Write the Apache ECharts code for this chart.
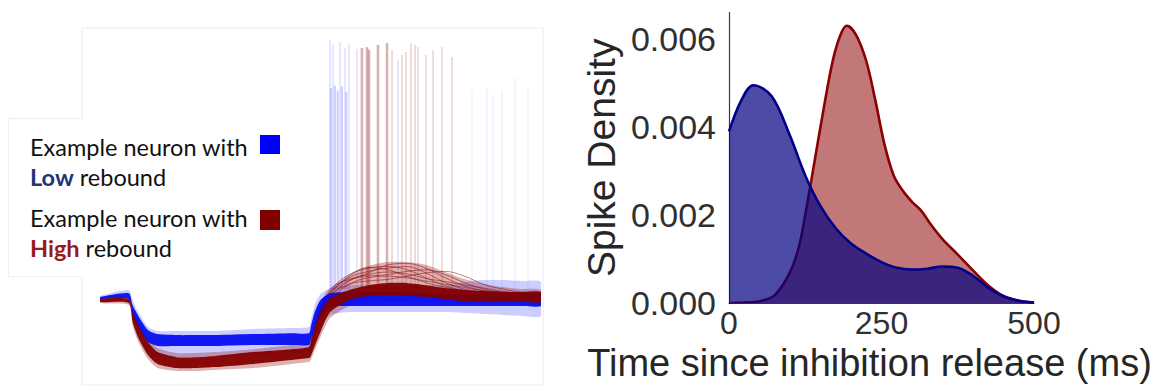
<!DOCTYPE html>
<html>
<head>
<meta charset="utf-8">
<script src="https://cdn.jsdelivr.net/npm/echarts@6/dist/echarts.min.js"></script>
<style>
  html, body { margin: 0; padding: 0; background: #fff; }
  #chart { width: 1172px; height: 391px; }
</style>
</head>
<body>
<div id="chart"></div>
<script>
// ---- Left: membrane potential of repeated trials (mV), sampled at traceTimes (ms)
const traceTimes = [0, 150, 170, 200, 250, 300, 400, 500, 600, 800, 1000, 1090, 1100, 1120, 1150, 1200, 1300, 1400, 1500, 1600, 1700, 1800, 1900, 2000, 2100, 2200, 2300];

// low-rebound neuron: dense core of trials and full spread of trials
const lowCoreHigh = [-60.0, -58.8, -62.5, -65.9, -70.3, -71.6, -71.9, -71.9, -71.9, -71.6, -71.3, -71.3, -69.1, -64.7, -60.9, -58.8, -58.4, -58.4, -58.4, -58.6, -58.8, -59.1, -59.1, -59.1, -59.1, -59.1, -59.1];
const lowCoreLow  = [-60.6, -60.6, -65.9, -69.7, -74.1, -75.3, -75.3, -75.3, -75.3, -75.0, -75.0, -75.0, -73.4, -70.3, -66.6, -63.1, -62.8, -62.8, -62.8, -62.8, -62.8, -62.8, -62.8, -62.8, -62.8, -62.8, -62.8];
const lowSpreadHigh = [-59.7, -57.8, -60.9, -64.7, -69.4, -70.6, -70.6, -70.6, -70.6, -70.0, -69.7, -69.4, -67.2, -62.5, -59.1, -57.2, -56.3, -56.3, -56.3, -56.3, -56.3, -56.3, -55.3, -54.7, -54.7, -55.0, -55.3];
const lowSpreadLow  = [-60.9, -61.3, -67.2, -71.9, -77.2, -78.4, -78.8, -78.8, -78.4, -78.1, -77.8, -77.2, -75.9, -72.8, -69.1, -65.6, -64.7, -64.7, -64.7, -64.7, -64.7, -64.7, -65.0, -65.3, -65.6, -65.9, -65.9];

// high-rebound neuron
const highCoreHigh = [-60.6, -60.6, -64.7, -68.8, -74.1, -77.2, -78.8, -78.8, -78.4, -77.2, -76.3, -75.6, -74.1, -69.7, -64.7, -60.3, -57.8, -56.3, -55.6, -55.6, -56.3, -57.2, -57.8, -58.1, -58.4, -58.4, -58.4];
const highCoreLow  = [-61.6, -61.9, -67.8, -72.8, -78.1, -80.9, -82.2, -82.2, -81.9, -80.9, -79.7, -79.1, -78.4, -75.3, -70.9, -64.7, -60.9, -59.7, -59.4, -59.7, -60.0, -60.6, -61.3, -61.6, -61.6, -61.6, -61.6];
const highSpreadHigh = [-60.3, -60.0, -63.8, -67.5, -72.8, -75.9, -77.5, -77.5, -77.2, -76.3, -75.0, -74.4, -72.8, -67.8, -62.8, -57.8, -53.1, -50.3, -49.1, -49.1, -50.0, -52.2, -54.4, -55.9, -56.9, -57.5, -57.8];
const highSpreadLow  = [-61.9, -62.5, -69.1, -74.1, -79.4, -82.2, -83.1, -83.1, -82.8, -82.2, -80.9, -80.3, -79.7, -76.6, -72.5, -66.6, -62.8, -61.9, -61.6, -61.6, -61.6, -61.9, -62.2, -62.5, -62.5, -62.5, -62.5];

// single high-rebound trials that stand out in the rebound hump
const humpTimes = [1100, 1150, 1200, 1300, 1400, 1500, 1600, 1700, 1800, 1900, 2000, 2100, 2200, 2300];
const humpTrials = [
  [-75, -64, -58, -53, -51, -50.5, -51.5, -54, -56.5, -58, -58.8, -59, -59.2, -59.3],
  [-76, -66, -60, -55, -52.5, -50, -49.5, -51, -54, -56.5, -58, -58.6, -59, -59.1],
  [-74, -63, -57.5, -54.5, -53.5, -53, -52, -51.5, -53, -55.5, -57.5, -58.5, -58.8, -59],
  [-77, -67, -61, -56, -54, -53.5, -54, -55, -56, -57, -58, -58.5, -58.8, -58.8],
  [-75, -65, -59, -53.5, -50.8, -51.5, -53.5, -55.5, -57, -58, -58.5, -59, -59, -59],
  [-76, -65, -59.5, -56, -55, -54.5, -53.5, -52.5, -52, -53.5, -56, -57.5, -58.5, -59],
  [-75, -64.5, -58.5, -54, -52, -51, -50.5, -52.5, -55.5, -57.5, -58.5, -59, -59.2, -59.2],
  [-76, -65.5, -59, -54.8, -53, -52.2, -52.8, -54.2, -55.2, -56.2, -57.2, -58.2, -58.8, -59]
];

// action potentials: onset potential (mV), spike times (ms) and peak potentials (mV)
const spikeOnset = -57.5;
const lowEarlySpikeTimes = [1200, 1215, 1252, 1278, 1299, 1340, 1554];
const lowEarlySpikePeaks = [20.3, 18.8, 19.7, 17.8, 18.8, 17.5, 14.0];
const lowBurstSpikeTimes = [1205, 1225, 1240, 1262, 1285];
const lowBurstSpikePeaks = [5.3, 6.0, 4.5, 5.8, 4.0];
const lowLateSpikeTimes = [1940, 2018, 2050, 2097, 2164, 2232];
const lowLateSpikePeaks = [3.8, 5.3, 3.1, 4.7, 8.4, 5.3];
const highMainSpikeTimes = [1366, 1393, 1403, 1450, 1497];
const highMainSpikePeaks = [17.8, 18.1, 17.2, 18.8, 19.4];
const highLaterSpikeTimes = [1523, 1575, 1596, 1622, 1643, 1658, 1700, 1737, 1784, 1836];
const highLaterSpikePeaks = [17.2, 15.6, 16.6, 19.4, 18.8, 18.1, 15.6, 17.2, 18.1, 15.0];

// ---- Right: kernel density of spike times after inhibition release
const lowKdeTimes = [0, 20, 40, 70, 100, 125, 150, 175, 200, 225, 250, 275, 300, 325, 350, 375, 400, 425, 450, 475, 500];
const lowKdeDensity = [0.0039, 0.0046, 0.00495, 0.0047, 0.0038, 0.0029, 0.0022, 0.0017, 0.00135, 0.00112, 0.00093, 0.0008, 0.00076, 0.00078, 0.00083, 0.0008, 0.00062, 0.00035, 0.00015, 0.00005, 0.00001];
const highKdeTimes = [0, 25, 50, 75, 100, 115, 125, 140, 155, 170, 183, 193, 208, 225, 240, 255, 270, 285, 300, 315, 330, 350, 375, 400, 425, 450, 475, 500];
const highKdeDensity = [0, 0.00001, 0.00004, 0.00018, 0.0007, 0.0013, 0.002, 0.0032, 0.0044, 0.0055, 0.0061, 0.0063, 0.0061, 0.0055, 0.0046, 0.0036, 0.0029, 0.00255, 0.0023, 0.0021, 0.0018, 0.00145, 0.0011, 0.00074, 0.0004, 0.00016, 0.00005, 0.00001];

const xTicks = [0, 250, 500];
const yTicks = [0, 0.002, 0.004, 0.006];

const AXIS_FONT = 'Liberation Sans, Arial, sans-serif';
const LEGEND_FONT = 'Lato, Calibri, sans-serif';

// filled band between the upper and lower envelope of a group of trials
function band(low, high, color, z) {
  return {
    type: 'custom', xAxisIndex: 0, yAxisIndex: 0, silent: true, clip: true, z: z, animation: false,
    data: [[traceTimes[0], low[0]]],
    renderItem: function (params, api) {
      const pts = [];
      for (let i = 0; i < traceTimes.length; i++) pts.push(api.coord([traceTimes[i], high[i]]));
      for (let i = traceTimes.length - 1; i >= 0; i--) pts.push(api.coord([traceTimes[i], low[i]]));
      return {
        type: 'polygon',
        shape: { points: pts, smooth: 0.22 },
        style: { fill: color, stroke: null }
      };
    }
  };
}

// one visible trial trace
function trial(values, color, z) {
  return {
    type: 'line', xAxisIndex: 0, yAxisIndex: 0, silent: true, z: z, animation: false,
    symbol: 'none', smooth: 0.4,
    data: humpTimes.map((t, i) => [t, values[i]]),
    lineStyle: { color: color, width: 1 }
  };
}

// vertical action potential strokes
function spikes(times, peaks, color, width, z) {
  return {
    type: 'custom', xAxisIndex: 0, yAxisIndex: 0, silent: true, z: z, animation: false,
    data: times.map((t, i) => [t, peaks[i]]),
    renderItem: function (params, api) {
      const p0 = api.coord([api.value(0), spikeOnset]);
      const p1 = api.coord([api.value(0), api.value(1)]);
      return {
        type: 'line',
        shape: { x1: p0[0], y1: p0[1], x2: p1[0], y2: p1[1] },
        style: { stroke: color, lineWidth: width, lineCap: 'butt' }
      };
    }
  };
}

const legendText = (x, y, text, rich) => ({
  type: 'text', x: x, y: y, z: 5,
  style: {
    text: text, fill: '#111', fontSize: 23.5, fontFamily: LEGEND_FONT,
    verticalAlign: 'middle', align: 'left', rich: rich || {}
  }
});

const chart = echarts.init(document.getElementById('chart'), null, { renderer: 'svg' });

chart.setOption({
  animation: false,
  backgroundColor: '#fff',
  grid: [
    { left: 100, top: 25, width: 441, height: 352, outerBoundsMode: 'none', containLabel: false },
    { left: 729, top: 12.6, width: 305, height: 290.4, outerBoundsMode: 'none', containLabel: false }
  ],
  xAxis: [
    { gridIndex: 0, type: 'value', min: 0, max: 2300, show: false },
    {
      gridIndex: 1, type: 'value', min: 0, max: 500, interval: 250,
      axisLine: { show: true, lineStyle: { color: '#3a3a3a', width: 1.2 } },
      axisTick: { show: false }, splitLine: { show: false },
      axisLabel: {
        margin: 8, fontSize: 32, lineHeight: 24, color: '#303030', fontFamily: AXIS_FONT,
        customValues: xTicks
      },
      name: 'Time since inhibition release (ms)', nameLocation: 'middle', nameGap: 44,
      nameMoveOverlap: false,
      nameTextStyle: { fontSize: 38, lineHeight: 32, color: '#262626', fontFamily: AXIS_FONT, padding: [0, 24, 0, 0] }
    }
  ],
  yAxis: [
    { gridIndex: 0, type: 'value', min: -85, max: 25, show: false },
    {
      gridIndex: 1, type: 'value', min: 0, max: 0.0066, interval: 0.002,
      axisLine: { show: true, lineStyle: { color: '#3a3a3a', width: 1.2 } },
      axisTick: { show: false }, splitLine: { show: false },
      axisLabel: {
        margin: 13, fontSize: 34, color: '#303030', fontFamily: AXIS_FONT,
        customValues: yTicks, formatter: v => v.toFixed(3)
      },
      name: 'Spike Density', nameLocation: 'middle', nameGap: 108,
      nameTextStyle: { fontSize: 39, color: '#262626', fontFamily: AXIS_FONT }
    }
  ],
  graphic: [
    { type: 'rect', z: 0, shape: { x: 82, y: 28, width: 461, height: 357 },
      style: { fill: '#fff', stroke: '#ececf2', lineWidth: 1 } },
    { type: 'rect', z: 1, shape: { x: 8, y: 118, width: 292, height: 159 },
      style: { fill: '#fff', stroke: null } },
    { type: 'polyline', z: 1, shape: { points: [[83, 118.5], [8.5, 118.5], [8.5, 276.5], [83, 276.5]] },
      style: { stroke: '#efeff2', lineWidth: 1, fill: null } },
    legendText(30, 147, 'Example neuron with'),
    legendText(30, 177, '{b|Low} rebound', { b: { fontWeight: 'bold', fill: '#1c3774', fontSize: 23.5, fontFamily: LEGEND_FONT } }),
    legendText(30, 218, 'Example neuron with'),
    legendText(30, 248, '{b|High} rebound', { b: { fontWeight: 'bold', fill: '#981a1a', fontSize: 23.5, fontFamily: LEGEND_FONT } }),
    { type: 'rect', z: 5, shape: { x: 260, y: 135, width: 20, height: 19 }, style: { fill: '#0000ff' } },
    { type: 'rect', z: 5, shape: { x: 260, y: 210, width: 20, height: 20 }, style: { fill: '#800000' } }
  ],
  series: [
    spikes(lowEarlySpikeTimes, lowEarlySpikePeaks, 'rgba(60,60,255,0.16)', 1.6, 2),
    spikes(lowBurstSpikeTimes, lowBurstSpikePeaks, 'rgba(60,60,255,0.24)', 2.2, 2),
    spikes(lowLateSpikeTimes, lowLateSpikePeaks, 'rgba(90,90,255,0.09)', 1.5, 2),
    spikes(highMainSpikeTimes, highMainSpikePeaks, 'rgba(139,20,20,0.33)', 2.6, 2),
    spikes(highLaterSpikeTimes, highLaterSpikePeaks, 'rgba(150,40,40,0.2)', 1.6, 2),
    band(lowSpreadLow, lowSpreadHigh, 'rgba(70,80,255,0.28)', 3),
    band(highSpreadLow, highSpreadHigh, 'rgba(150,20,20,0.33)', 4)
  ].concat(
    humpTrials.map(v => trial(v, 'rgba(139,0,0,0.5)', 4)),
    [
      band(lowCoreLow, lowCoreHigh, 'rgba(0,10,240,0.92)', 5),
      band(highCoreLow, highCoreHigh, 'rgba(130,0,0,0.95)', 6),
      {
        type: 'line', xAxisIndex: 1, yAxisIndex: 1, z: 3, symbol: 'none', smooth: 0.35, silent: true,
        data: highKdeTimes.map((t, i) => [t, highKdeDensity[i]]),
        lineStyle: { color: '#8b0000', width: 2.6 },
        areaStyle: { color: 'rgba(139,0,0,0.53)', opacity: 1, origin: 'start' }
      },
      {
        type: 'line', xAxisIndex: 1, yAxisIndex: 1, z: 4, symbol: 'none', smooth: 0.35, silent: true,
        data: lowKdeTimes.map((t, i) => [t, lowKdeDensity[i]]),
        lineStyle: { color: '#00008b', width: 2.6 },
        areaStyle: { color: 'rgba(0,0,128,0.7)', opacity: 1, origin: 'start' }
      }
    ]
  )
});
</script>
</body>
</html>
